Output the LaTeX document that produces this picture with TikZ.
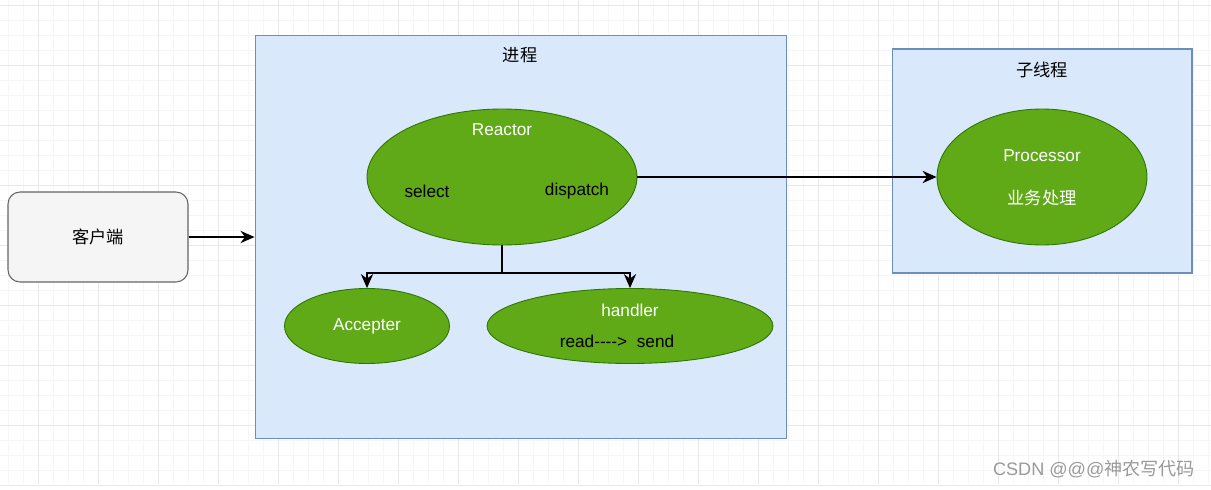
\documentclass[tikz,border=0pt]{standalone}
\usepackage{fontspec}
\setmainfont{Liberation Sans}
\newfontfamily\cjk{Noto Sans CJK SC}
\usetikzlibrary{shapes.geometric,arrows.meta}
\definecolor{boxfill}{HTML}{DAE8FC}
\definecolor{boxline}{HTML}{6C8EBF}
\definecolor{greenfill}{HTML}{60A917}
\definecolor{greenline}{HTML}{2D7600}
\definecolor{clientfill}{HTML}{F5F5F5}
\definecolor{clientline}{HTML}{666666}
\definecolor{gridminor}{HTML}{F6F6F6}
\definecolor{gridmajor}{HTML}{E8E8E8}

\begin{document}
\begin{tikzpicture}[x=0.02cm, y=-0.02cm, font=\fontsize{9.8}{11.8}\selectfont,
		region/.style={draw=boxline, fill=boxfill, line width=0.6pt, inner sep=0pt},
		worker/.style={ellipse, draw=greenline, fill=greenfill, line width=0.5pt, inner sep=0pt},
		whitetext/.style={text=white},
		flow/.style={line width=0.7pt, -{Stealth[length=8pt, width=7pt]}}]
		% background and grid
		\fill[white] (0,0) rectangle (1211,490);
		\useasboundingbox (0,0) rectangle (1211,490);
		\foreach \gx in {8,23,...,1211} \draw[gridminor, line width=0.4pt] (\gx,0) -- (\gx,484);
		\foreach \gy in {5,20,...,485} \draw[gridminor, line width=0.4pt] (0,\gy) -- (1211,\gy);
		\foreach \gx in {38,98,...,1211} \draw[gridmajor, line width=0.5pt] (\gx,0) -- (\gx,484);
		\foreach \gy in {5,65,...,490} \draw[gridmajor, line width=0.5pt] (0,\gy) -- (1211,\gy);

		% client
		\node[draw=clientline, fill=clientfill, line width=0.6pt, rounded corners=0.24cm,
			minimum width=3.6cm, minimum height=1.8cm] (client) at (98,237) {\cjk 客户端};

		% process
		\node[region, minimum width=10.64cm, minimum height=8.08cm] (proc) at (521,237) {};
		\node (proclabel) at (520,55) {\cjk 进程};
		\node[worker, minimum width=5.4cm, minimum height=2.72cm] (reactor) at (502,177) {};
		\node[whitetext] (reactorlabel) at (502,130) {Reactor};
		\node (select) at (427,191) {select};
		\node (dispatch) at (577,191) {dispatch};
		\node[worker, minimum width=3.3cm, minimum height=1.5cm] (accepter) at (367,326) {};
		\node[whitetext] (accepterlabel) at (367,326) {Accepter};
		\node[worker, minimum width=5.72cm, minimum height=1.5cm] (handler) at (630,326) {};
		\node[whitetext] (handlerlabel) at (630,310) {handler};
		\node (readsend) at (617,341) {read-{}-{}-{}->~~send};

		% sub thread
		\node[region, minimum width=6cm, minimum height=4.48cm] (thread) at (1042,161) {};
		\node (threadlabel) at (1042,70) {\cjk 子线程};
		\node[worker, minimum width=4.2cm, minimum height=2.72cm] (processor) at (1042,177) {};
		\node[whitetext] (processorlabel) at (1042,156) {Processor};
		\node[whitetext] (worklabel) at (1042,198) {\cjk 业务处理};

		% connectors
		\coordinate (split) at (502,273);
		\draw[flow] (client.east) -- (proc.west);
		\draw[flow] (reactor.east) -- (processor.west);
		\draw[line width=0.7pt] (reactor.south) -- (split);
		\draw[flow] (split) -| (accepter.north);
		\draw[flow] (split) -| (handler.north);

		% watermark
		\node[text=black!40, font=\fontsize{10.3}{12}\selectfont] (mark) at (1094,469) {CSDN @@@\cjk 神农写代码};
	\end{tikzpicture}
\end{document}
